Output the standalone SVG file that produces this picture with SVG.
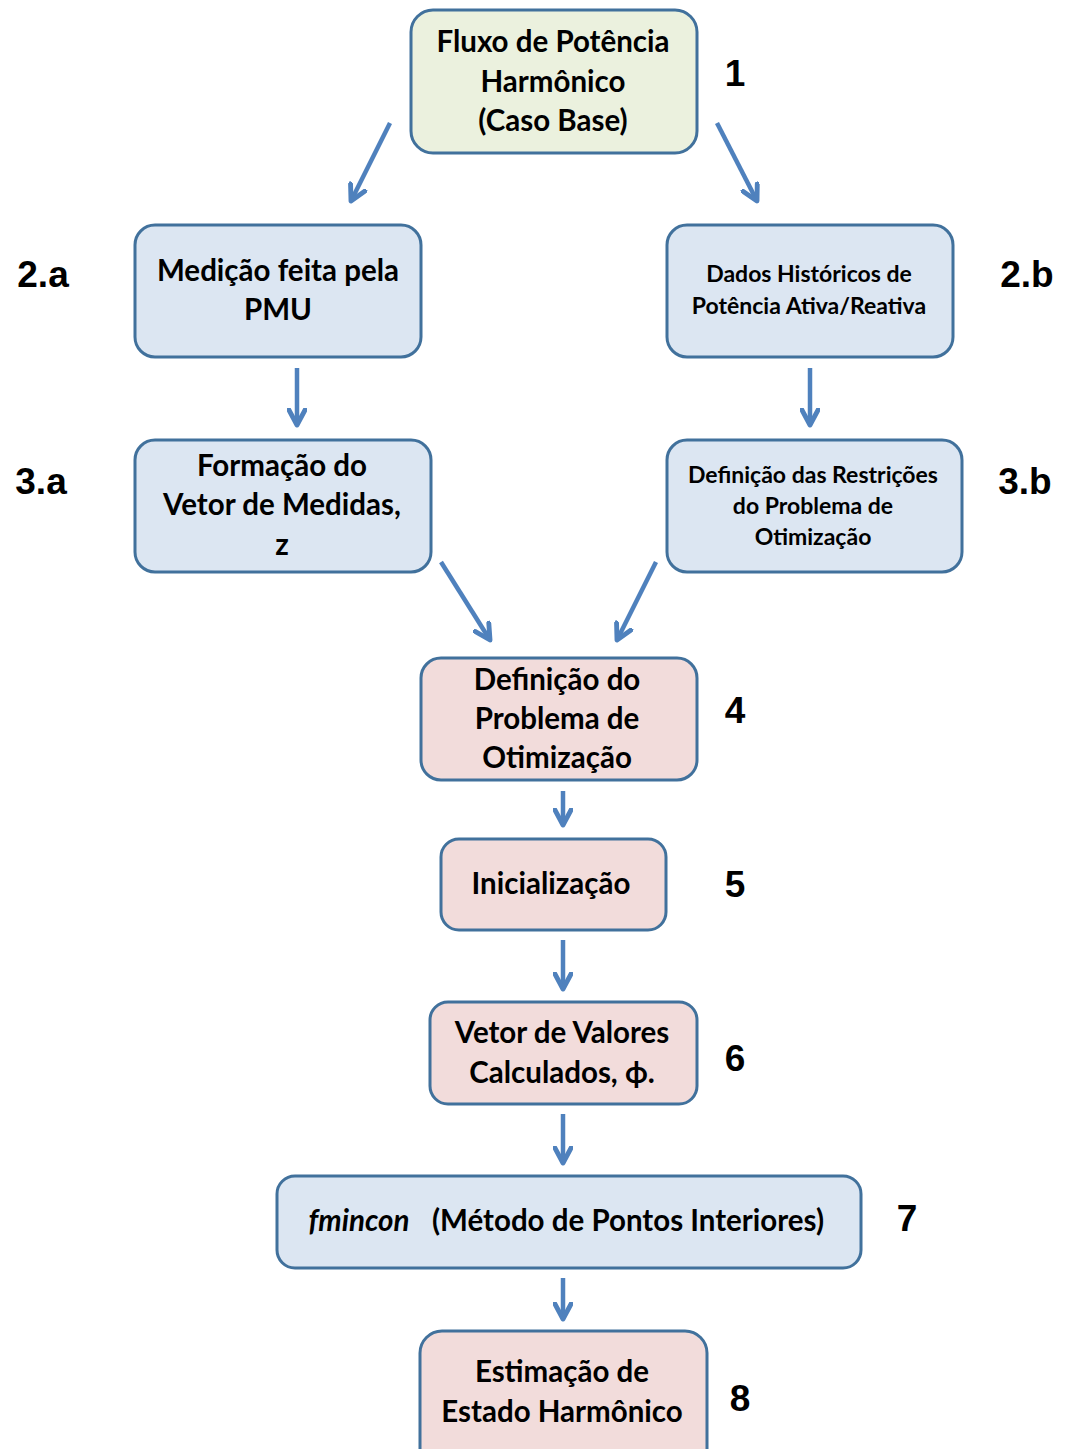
<svg xmlns="http://www.w3.org/2000/svg" width="1065" height="1449" viewBox="0 0 1065 1449">
<defs>
<marker id="ah" viewBox="0 0 10 10" refX="8.5" refY="5" markerWidth="4.5" markerHeight="4.5" orient="auto" markerUnits="strokeWidth">
<path d="M1,1 L8.5,5 L1,9" fill="none" stroke="#4f81bd" stroke-width="2.4" stroke-linejoin="round" stroke-linecap="round"/>
</marker>
<style>
.box{stroke:#41719c;stroke-width:3}
.g{fill:#ebf1de}.b{fill:#dce6f2}.r{fill:#f2dcdb}
.t{font-family:Lato,"Liberation Sans",sans-serif;font-weight:bold;font-size:29.5px;fill:#000;text-anchor:middle}
.s{font-size:23px}
.n{font-family:"Liberation Sans",Arial,sans-serif;font-weight:bold;font-size:37px;fill:#000;text-anchor:middle}
.c{stroke:#4f81bd;stroke-width:4.5;fill:none;marker-end:url(#ah)}
</style>
</defs>
<rect width="1065" height="1449" fill="#fff"/>
<g id="connectors">
<line class="c" x1="390" y1="123" x2="351" y2="201"/>
<line class="c" x1="717" y1="123" x2="757" y2="201"/>
<line class="c" x1="297" y1="368" x2="297" y2="425"/>
<line class="c" x1="810" y1="368" x2="810" y2="425"/>
<line class="c" x1="441" y1="562" x2="490" y2="640"/>
<line class="c" x1="656" y1="562" x2="617" y2="640"/>
<line class="c" x1="563" y1="791" x2="563" y2="825"/>
<line class="c" x1="563" y1="940" x2="563" y2="989"/>
<line class="c" x1="563" y1="1114" x2="563" y2="1163"/>
<line class="c" x1="563" y1="1278" x2="563" y2="1319"/>
</g>
<g id="n1">
<rect class="box g" x="411" y="10" width="286" height="143" rx="22"/>
<text class="t" x="553" y="52">Fluxo de Potência</text>
<text class="t" x="553" y="92">Harmônico</text>
<text class="t" x="553" y="131">(Caso Base)</text>
</g>
<g id="n2a">
<rect class="box b" x="135" y="225" width="286" height="132" rx="20"/>
<text class="t" x="278" y="281">Medição feita pela</text>
<text class="t" x="278" y="320">PMU</text>
</g>
<g id="n2b">
<rect class="box b" x="667" y="225" width="286" height="132" rx="20"/>
<text class="t s" x="809" y="282">Dados Históricos de</text>
<text class="t s" x="809" y="314">Potência Ativa/Reativa</text>
</g>
<g id="n3a">
<rect class="box b" x="135" y="440" width="296" height="132" rx="20"/>
<text class="t" x="282" y="476">Formação do</text>
<text class="t" x="282" y="515">Vetor de Medidas,</text>
<text class="t" x="282" y="555">z</text>
</g>
<g id="n3b">
<rect class="box b" x="667" y="440" width="295" height="132" rx="20"/>
<text class="t s" x="813" y="483">Definição das Restrições</text>
<text class="t s" x="813" y="514">do Problema de</text>
<text class="t s" x="813" y="545">Otimização</text>
</g>
<g id="n4">
<rect class="box r" x="421" y="658" width="276" height="122" rx="20"/>
<text class="t" x="557" y="690">Definição do</text>
<text class="t" x="557" y="729">Problema de</text>
<text class="t" x="557" y="768">Otimização</text>
</g>
<g id="n5">
<rect class="box r" x="441" y="839" width="225" height="91" rx="18"/>
<text class="t" x="551" y="894">Inicialização</text>
</g>
<g id="n6">
<rect class="box r" x="430" y="1002" width="267" height="102" rx="18"/>
<text class="t" x="562" y="1043">Vetor de Valores</text>
<text class="t" x="562" y="1083">Calculados, ϕ.</text>
</g>
<g id="n7">
<rect class="box b" x="277" y="1176" width="584" height="92" rx="18"/>
<text class="t" x="359" y="1231" font-style="italic" font-weight="normal">fmincon</text>
<text class="t" x="628" y="1231">(Método de Pontos Interiores)</text>
</g>
<g id="n8">
<rect class="box r" x="420" y="1331" width="287" height="140" rx="22"/>
<text class="t" x="562" y="1382">Estimação de</text>
<text class="t" x="562" y="1422">Estado Harmônico</text>
</g>
<g id="labels">
<text class="n" x="43" y="287">2.a</text>
<text class="n" x="1027" y="287">2.b</text>
<text class="n" x="41" y="494">3.a</text>
<text class="n" x="1025" y="494">3.b</text>
<text class="n" x="735" y="86">1</text>
<text class="n" x="735" y="723">4</text>
<text class="n" x="735" y="897">5</text>
<text class="n" x="735" y="1071">6</text>
<text class="n" x="907" y="1231">7</text>
<text class="n" x="740" y="1411">8</text>
</g>
</svg>
